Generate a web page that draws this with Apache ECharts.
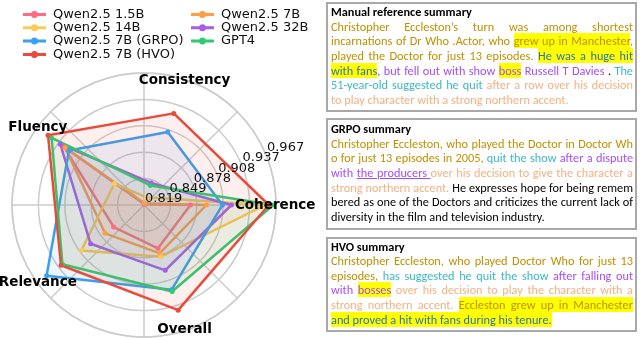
<!DOCTYPE html>
<html>
<head>
<meta charset="utf-8">
<script src="https://cdn.jsdelivr.net/npm/echarts@6/dist/echarts.min.js"></script>
<style>
  html, body { margin:0; padding:0; background:#fff; overflow:hidden; }
  #chart { position:absolute; left:0; top:0; width:640px; height:338px; }
  .box { position:absolute; box-sizing:border-box; border:2px solid #a9a9a9; background:#fff; }
  .txt { position:absolute; width:302px; font-family: Carlito, Lato, sans-serif; font-size:12px; }
  .ln { height:14.6px; line-height:14.6px; white-space:nowrap; overflow:visible; }
  .ln > .in { display:inline-block; white-space:nowrap; }
  .ttl { font-weight:bold; color:#000; }
  .g { color:#bf9000; }
  .gy { color:#bf9000; background:#ffff00; }
  .by { color:#2e74b5; background:#ffff00; }
  .b { color:#2e74b5; }
  .p { color:#a64df5; }
  .py { color:#a64df5; background:#ffff00; }
  .pu { color:#a64df5; text-decoration:underline; }
  .c { color:#3bb8c6; }
  .s { color:#f4b183; }
  .k { color:#000; }
</style>
</head>
<body>
<div id="chart"></div>
<div id="boxes"></div>
<script>
// ---------------- data ----------------
const axisNames = ['Coherence', 'Consistency', 'Fluency', 'Relevance', 'Overall'];
const tickLabels = ['0.819', '0.849', '0.878', '0.908', '0.937', '0.967'];
const seriesNames = ['Qwen2.5 1.5B', 'Qwen2.5 7B', 'Qwen2.5 14B', 'Qwen2.5 32B', 'Qwen2.5 7B (GRPO)', 'GPT4', 'Qwen2.5 7B (HVO)'];
const qwen15b = [0.871, 0.820, 0.930, 0.861, 0.870];
const qwen7b  = [0.889, 0.821, 0.928, 0.873, 0.876];
const qwen14b = [0.955, 0.828, 0.860, 0.906, 0.880];
const qwen32b = [0.917, 0.845, 0.935, 0.893, 0.896];
const grpo    = [0.907, 0.905, 0.923, 0.954, 0.919];
const gpt4    = [0.964, 0.842, 0.947, 0.932, 0.921];
const hvo     = [0.959, 0.927, 0.952, 0.934, 0.943];
const seriesValues = [qwen15b, qwen7b, qwen14b, qwen32b, grpo, gpt4, hvo];
const legendCol1 = ['Qwen2.5 1.5B', 'Qwen2.5 14B', 'Qwen2.5 7B (GRPO)', 'Qwen2.5 7B (HVO)'];
const legendCol2 = ['Qwen2.5 7B', 'Qwen2.5 32B', 'GPT4'];

// summary texts: [text, style]
const boxTitles = ['Manual reference summary', 'GRPO summary', 'HVO summary'];
const manualLines = [
  [['Christopher Eccleston’s turn was among shortest', 'g']],
  [['incarnations of Dr Who .Actor, who ', 'g'], ['grew up in Manchester', 'gy'], [',', 'g']],
  [['played the Doctor for just 13 episodes. ', 'g'], ['He was a huge hit', 'by']],
  [['with fans', 'by'], [', ', 'b'], ['but fell out with show ', 'p'], ['boss', 'py'], [' Russell T Davies', 'p'], [' . ', 'k'], ['The', 'c']],
  [['51-year-old suggested he quit ', 'c'], ['after a row over his decision', 's']],
  [['to play character with a strong northern accent.', 's']]
];
const grpoLines = [
  [['Christopher Eccleston, who played the Doctor in Doctor Wh', 'g']],
  [['o for just 13 episodes in 2005, ', 'g'], ['quit the show ', 'c'], ['after a dispute', 'p']],
  [['with ', 'p'], ['the producers ', 'pu'], ['over his decision to give the character a', 's']],
  [['strong northern accent. ', 's'], ['He expresses hope for being remem', 'k']],
  [['bered as one of the Doctors and criticizes the current lack of', 'k']],
  [['diversity in the film and television industry.', 'k']]
];
const hvoLines = [
  [['Christopher Eccleston, who played Doctor Who for just 13', 'g']],
  [['episodes, ', 'g'], ['has suggested he quit the show ', 'c'], ['after falling out', 'p']],
  [['with ', 'p'], ['bosses', 'py'], [' over his decision to play the character with a', 's']],
  [['strong northern accent. ', 's'], ['Eccleston grew up in Manchester', 'gy']],
  [['and proved a hit with fans during his tenure.', 'by']]
];
const boxLines = [manualLines, grpoLines, hvoLines];

// ---------------- styles / layout ----------------
const colors = ['#ff6b81', '#ff9f43', '#feca57', '#a55eea', '#3aa0f0', '#2ecc71', '#e74c3c'];
const boxRects = [[326, 2, 311, 110], [326, 118, 311, 112], [326, 237, 311, 95]];
const textTops = [5.2, 122.2, 239.7];
const titleTargetWidth = 141;

// ---------------- text boxes (HTML) ----------------
const boxesEl = document.getElementById('boxes');
const txtEls = [];
boxRects.forEach((r, bi) => {
  const b = document.createElement('div');
  b.className = 'box';
  b.style.left = r[0] + 'px'; b.style.top = r[1] + 'px';
  b.style.width = r[2] + 'px'; b.style.height = r[3] + 'px';
  boxesEl.appendChild(b);
  const t = document.createElement('div');
  t.className = 'txt';
  t.style.left = '331px'; t.style.top = textTops[bi] + 'px';
  const ttl = document.createElement('div');
  ttl.className = 'ln ttl';
  const ti = document.createElement('span');
  ti.className = 'tin';
  ti.style.display = 'inline-block';
  ti.textContent = boxTitles[bi];
  ttl.appendChild(ti);
  t.appendChild(ttl);
  const lines = boxLines[bi];
  lines.forEach((segs, li) => {
    const ln = document.createElement('div');
    ln.className = 'ln' + (li === lines.length - 1 ? ' last' : '');
    const inner = document.createElement('span');
    inner.className = 'in';
    segs.forEach(s => {
      const sp = document.createElement('span');
      sp.className = s[1];
      sp.textContent = s[0];
      inner.appendChild(sp);
    });
    ln.appendChild(inner);
    t.appendChild(ln);
  });
  boxesEl.appendChild(t);
  txtEls.push(t);
});
function fitFont() {
  const tw = document.querySelector('.tin').getBoundingClientRect().width;
  let fs = 12 * titleTargetWidth / tw;
  fs = Math.max(10.5, Math.min(13.5, fs));
  txtEls.forEach(t => t.style.fontSize = fs + 'px');
}
function justify() {
  const W = 302;
  document.querySelectorAll('.ln').forEach(ln => {
    const inner = ln.querySelector('.in');
    if (!inner) return;
    const text = inner.textContent;
    let w = inner.getBoundingClientRect().width;
    if (w > W) {
      inner.style.letterSpacing = ((W - w) / text.length) + 'px';
      w = inner.getBoundingClientRect().width;
    }
    if (ln.classList.contains('last')) return;
    const spaces = (text.match(/ /g) || []).length;
    if (spaces && w < W) inner.style.wordSpacing = ((W - w) / spaces) + 'px';
  });
}
fitFont();
justify();

// ---------------- chart ----------------
const chart = echarts.init(document.getElementById('chart'), null, { renderer: 'canvas' });
const center = [144, 205];
const R = 132;
const gridColor = '#cccccc';
const legendIcon = 'path://M0,2H23V5H0Z M11.5,0A3.5,3.5 0 1 1 11.49,0Z';
const legendBase = {
  orient: 'vertical', top: 3, itemWidth: 23, itemHeight: 7, itemGap: 0.3,
  icon: legendIcon,
  textStyle: { fontFamily: 'DejaVu Sans', fontSize: 13, color: '#111', lineHeight: 13, padding: [0, 0, 0, 2] }
};
const option = {
  animation: false,
  polar: { center: center, radius: R },
  angleAxis: {
    type: 'value', min: 0, max: 360, interval: 45, startAngle: 0, clockwise: false,
    axisLine: { show: true, lineStyle: { color: gridColor, width: 1.5 } },
    axisTick: { show: false }, axisLabel: { show: false },
    splitLine: { show: true, lineStyle: { color: gridColor, width: 1.5 } }
  },
  radiusAxis: {
    type: 'value', min: 0, max: tickLabels.length - 1, interval: 1,
    axisLine: { show: false }, axisTick: { show: false }, axisLabel: { show: false },
    splitLine: { show: true, lineStyle: { color: gridColor, width: 1.5 } }
  },
  radar: {
    center: center, radius: R, startAngle: 0, shape: 'circle',
    indicator: axisNames.map(n => ({ name: n, min: parseFloat(tickLabels[0]), max: parseFloat(tickLabels[tickLabels.length - 1]) })),
    axisName: { show: false },
    axisLine: { show: false }, splitLine: { show: false }, splitArea: { show: false }
  },
  legend: [
    Object.assign({}, legendBase, { left: 18, data: legendCol1 }),
    Object.assign({}, legendBase, { left: 186, data: legendCol2 })
  ],
  series: seriesNames.map((name, i) => ({
    type: 'radar',
    name: name,
    symbol: 'circle',
    symbolSize: 5,
    itemStyle: { color: colors[i] },
    lineStyle: { color: colors[i], width: 2.5 },
    areaStyle: { color: colors[i], opacity: 0.09 },
    data: [{ name: name, value: seriesValues[i] }]
  }))
};
chart.setOption(option);

// axis names and radial tick labels, positioned through the polar grid's own scale
const graphics = [];
axisNames.forEach((n, i) => {
  const p = chart.convertToPixel({ polarIndex: 0 }, [tickLabels.length - 1.03, i * 360 / axisNames.length]);
  graphics.push({
    type: 'text', x: p[0], y: p[1], z: 100,
    style: { text: n, fill: '#000', font: 'bold 13.5px "DejaVu Sans"', align: 'center', verticalAlign: 'middle' }
  });
});
tickLabels.forEach((t, i) => {
  const p = chart.convertToPixel({ polarIndex: 0 }, [i, 22.5]);
  graphics.push({
    type: 'text', x: p[0] + 1, y: p[1], z: 100,
    style: { text: t, fill: '#111', font: '13px "DejaVu Sans"', align: 'left', verticalAlign: 'bottom' }
  });
});
chart.setOption({ graphic: graphics });
</script>
</body>
</html>
